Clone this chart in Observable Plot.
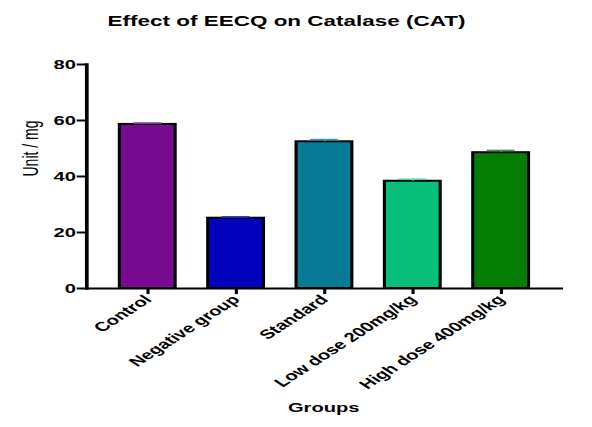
<!DOCTYPE html>
<html>
<head>
<meta charset="utf-8">
<script src="https://cdn.jsdelivr.net/npm/d3@7"></script>
<script src="https://cdn.jsdelivr.net/npm/@observablehq/plot@0.6"></script>
<style>
  html, body { margin: 0; padding: 0; background: white; }
  #chart { width: 592px; height: 427px; overflow: hidden; }
</style>
</head>
<body>
<div id="chart"></div>
<script>
const groups = ["Control", "Negative group", "Standard", "Low dose 200mg/kg", "High dose 400mg/kg"];
const means = [58.6, 25.1, 52.4, 38.3, 48.5];
const errors = [0.5, 0.5, 0.8, 0.7, 0.8];
const fills = ["#770a91", "#0303bd", "#077b95", "#05bf7b", "#037e02"];
const capColors = ["#9a40b2", "#3a3ad0", "#3aa0b4", "#55d4a2", "#34a034"];
const yTicks = [0, 20, 40, 60, 80];
const titleText = "Effect of EECQ on Catalase (CAT)";
const yLabel = "Unit / mg";
const xLabel = "Groups";

const data = groups.map((g, i) => ({group: g, value: means[i], hi: means[i] + errors[i], fill: fills[i], cap: capColors[i]}));

// The reference is horizontally stretched; draw at natural width, then stretch the SVG.
const stretch = 1.55;
const W = 592 / stretch;

const svg = Plot.plot({
  width: W,
  height: 427,
  marginLeft: 55.5,
  marginRight: 18.7,
  marginTop: 64,
  marginBottom: 139,
  style: {fontFamily: "'Liberation Sans', Arial, sans-serif", background: "white", color: "black"},
  x: {domain: groups, paddingInner: 0.36, paddingOuter: 0.37},
  y: {domain: [0, 80]},
  marks: [
    Plot.barY(data, {x: "group", y: "value", fill: "fill", stroke: "black", strokeWidth: 2}),
    Plot.ruleX(data, {x: "group", y1: "value", y2: "hi", stroke: "cap", strokeWidth: 1}),
    Plot.tickY(data, {x: "group", y: "hi", stroke: "cap", strokeWidth: 1.6, inset: 9}),
    Plot.ruleY([0], {stroke: "black", strokeWidth: 2}),
    Plot.frame({anchor: "left", stroke: "black", strokeWidth: 2.4}),
    Plot.axisY({ticks: yTicks, tickSize: 6, tickPadding: 1, stroke: "black", strokeWidth: 2, fontSize: 13, fontWeight: "bold", label: null, tickFormat: d => String(d)}),
    Plot.axisX({tickSize: 6, tickPadding: 3, stroke: "black", strokeWidth: 2, tickRotate: -45, fontSize: 13, fontWeight: "bold", label: null}),
    Plot.text([titleText], {frameAnchor: "top", dy: -43, dx: -25, fontSize: 14.5, fontWeight: "bold", lineAnchor: "middle"}),
    Plot.text([yLabel], {frameAnchor: "left", dx: -36, rotate: -90, fontSize: 14, lineAnchor: "middle"}),
    Plot.text([xLabel], {frameAnchor: "bottom", dy: 119, dx: -1, fontSize: 13, fontWeight: "bold", lineAnchor: "middle"})
  ]
});

svg.setAttribute("preserveAspectRatio", "none");
svg.setAttribute("width", 592);
svg.setAttribute("height", 427);
svg.style.width = "592px";
svg.style.height = "427px";
svg.style.maxWidth = "none";
document.getElementById("chart").appendChild(svg);
</script>
</body>
</html>
